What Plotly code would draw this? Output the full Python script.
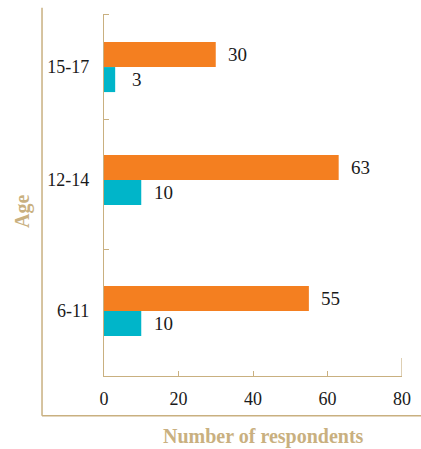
import plotly.graph_objects as go

# Survey data: respondents per age band
age_groups = ["6-11", "12-14", "15-17"]
orange_values = [55, 63, 30]
teal_values = [10, 10, 3]
x_ticks = [0, 20, 40, 60, 80]

# Layout-only: vertical centre of each age band and band boundaries (axis units)
ROW_Y = [0.0, 1.031, 1.921]
BOUNDARIES = [0.488, 1.512, 2.339]
BAR_W = 0.197
Y_RANGE = [-0.512, 2.339]

ORANGE = "#F47F20"
TEAL = "#00B5C9"
TAN = "#C9B080"
SERIF = "Liberation Serif"

fig = go.Figure()
fig.add_trace(go.Bar(
    y=ROW_Y, x=orange_values, orientation="h", width=BAR_W, offset=0,
    marker=dict(color=ORANGE, line=dict(width=0)), hoverinfo="skip",
))
fig.add_trace(go.Bar(
    y=ROW_Y, x=teal_values, orientation="h", width=BAR_W, offset=-BAR_W,
    marker=dict(color=TEAL, line=dict(width=0)), hoverinfo="skip",
))

# value labels beside each bar
for yc, ov, tv in zip(ROW_Y, orange_values, teal_values):
    for val, yy in ((ov, yc + BAR_W / 2), (tv, yc - BAR_W / 2)):
        fig.add_annotation(x=val, y=yy, text=str(val), showarrow=False,
                           xanchor="center", yanchor="middle", xshift=22,
                           font=dict(family=SERIF, size=19, color="#1a1a1a"))

# axis titles
fig.add_annotation(xref="paper", yref="paper", x=0.534, y=-0.166,
                   text="<b>Number of respondents</b>", showarrow=False,
                   xanchor="center", yanchor="middle",
                   font=dict(family=SERIF, size=20, color=TAN))
fig.add_annotation(xref="paper", yref="paper", x=-0.275, y=0.453,
                   text="<b>Age</b>", showarrow=False, textangle=-90,
                   xanchor="center", yanchor="middle",
                   font=dict(family=SERIF, size=20, color=TAN))

# outer L-shaped frame
fig.add_shape(type="line", xref="paper", yref="paper", x0=-0.208, x1=-0.208,
              y0=1.017, y1=-0.11, line=dict(color=TAN, width=1.5))
fig.add_shape(type="line", xref="paper", yref="paper", x0=-0.208, x1=1.07,
              y0=-0.11, y1=-0.11, line=dict(color=TAN, width=1.5))
# taller end tick at the top of the x scale
fig.add_shape(type="line", xref="x", yref="paper", x0=80, x1=80,
              y0=0, y1=0.05, line=dict(color=TAN, width=1.2))

fig.update_layout(
    width=421, height=449,
    margin=dict(l=104, r=19, t=14, b=73),
    paper_bgcolor="white", plot_bgcolor="rgba(0,0,0,0)",
    barmode="overlay", showlegend=False,
    font=dict(family=SERIF, size=18, color="#1a1a1a"),
)
fig.update_xaxes(
    range=[0, 80], tickvals=x_ticks, showgrid=False, zeroline=False,
    showline=True, linecolor=TAN, linewidth=1.2, automargin=False,
    ticks="inside", ticklen=5, tickcolor=TAN, tickwidth=1.2,
    ticklabelstandoff=6,
    tickfont=dict(family=SERIF, size=18, color="#1a1a1a"),
)
fig.update_yaxes(
    range=Y_RANGE, tickvals=ROW_Y, ticktext=age_groups,
    showgrid=False, zeroline=False, automargin=False,
    showline=True, linecolor=TAN, linewidth=1.2,
    ticks="", ticklabelstandoff=10,
    tickfont=dict(family=SERIF, size=18, color="#1a1a1a"),
    minor=dict(tickvals=BOUNDARIES, ticks="inside", ticklen=5,
               tickcolor=TAN, tickwidth=1.2, showgrid=False),
)

fig.write_html("out.html")
